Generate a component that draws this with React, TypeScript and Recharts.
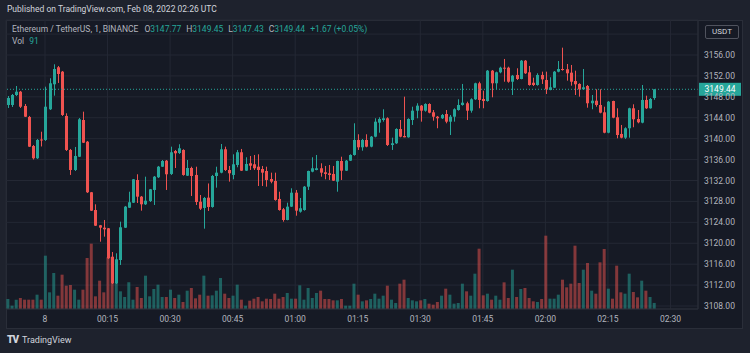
import { ComposedChart, Bar, XAxis, YAxis, CartesianGrid, ReferenceLine, Cell } from "recharts";

// one candle per minute, first one at 23:51 (minute -9 relative to 00:00)
const FIRST_MINUTE = -9;

const opens = [
  3146.44, 3146.44, 3148.35, 3148.98, 3146.25, 3144.15, 3138.6, 3136.25, 3139.84, 3139.75,
  3145.62, 3150.4, 3153.65, 3152.81, 3144.34, 3137.84, 3134.01, 3136.55, 3143.57, 3139.42,
  3129.75, 3126.36, 3123.44, 3122.98, 3122.86, 3117.43, 3112.35, 3116.8, 3122.98, 3126.8,
  3127.76, 3132.1, 3128.91, 3127.45, 3128.08, 3130.19, 3132.62, 3134.64, 3135.79, 3133.25,
  3137.64, 3137.26, 3137.84, 3132.92, 3134.39, 3133.06, 3127.95, 3126.75, 3128.72, 3126.94,
  3132.86, 3133.5, 3137.97, 3134.01, 3133.06, 3134.97, 3137.4, 3133.88, 3135.29, 3135.1,
  3134.64, 3134.2, 3133.82, 3132.29, 3131.91, 3128.47, 3126.5, 3124.45, 3127.0, 3129.67,
  3126.04, 3126.36, 3130.82, 3133.69, 3134.01, 3134.34, 3133.57, 3133.38, 3133.25, 3131.78,
  3135.73, 3133.88, 3135.79, 3136.88, 3139.75, 3138.35, 3139.75, 3138.47, 3140.38, 3143.06,
  3143.57, 3143.9, 3138.79, 3139.12, 3141.85, 3140.51, 3140.26, 3143.57, 3145.35, 3146.31,
  3145.35, 3146.63, 3145.04, 3144.2, 3143.9, 3144.72, 3143.25, 3144.2, 3145.48, 3146.44,
  3146.77, 3145.35, 3147.53, 3150.59, 3147.59, 3147.2, 3153.0, 3150.59, 3152.69, 3153.57,
  3153.57, 3150.89, 3152.18, 3151.41, 3154.91, 3152.69, 3150.7, 3150.26, 3152.18, 3151.22,
  3149.31, 3149.75, 3152.81, 3153.32, 3153.27, 3152.62, 3151.03, 3150.46, 3149.44, 3150.07,
  3146.77, 3147.26, 3146.44, 3145.04, 3141.14, 3147.2, 3144.09, 3140.9, 3140.19, 3141.99,
  3145.81, 3143.76, 3143.06, 3147.4, 3145.81, 3147.77
];

const highs = [
  3148.16, 3148.54, 3150.07, 3149.12, 3146.63, 3144.34, 3138.79, 3139.94, 3141.33, 3149.94,
  3151.55, 3154.22, 3153.9, 3152.94, 3144.85, 3138.03, 3138.41, 3143.95, 3145.16, 3139.56,
  3129.81, 3127.45, 3123.5, 3124.45, 3122.92, 3118.33, 3118.08, 3124.13, 3127.13, 3129.86,
  3132.29, 3133.19, 3129.04, 3132.73, 3130.38, 3132.86, 3134.78, 3135.92, 3135.92, 3138.47,
  3137.84, 3138.93, 3137.97, 3135.92, 3134.64, 3134.64, 3129.23, 3128.85, 3131.43, 3133.06,
  3134.64, 3138.98, 3138.47, 3134.78, 3137.01, 3137.84, 3138.03, 3136.44, 3136.69, 3136.88,
  3137.01, 3134.78, 3134.64, 3133.5, 3133.5, 3129.86, 3126.75, 3127.76, 3130.51, 3130.19,
  3128.66, 3130.95, 3133.88, 3136.44, 3136.88, 3135.29, 3134.78, 3134.97, 3134.78, 3135.79,
  3136.55, 3135.92, 3137.01, 3142.94, 3140.84, 3139.94, 3140.84, 3140.51, 3143.9, 3144.09,
  3145.62, 3144.09, 3140.19, 3141.99, 3143.57, 3148.03, 3143.9, 3146.11, 3146.77, 3146.44,
  3146.77, 3146.77, 3145.48, 3144.34, 3144.72, 3145.48, 3144.53, 3145.81, 3147.53, 3150.46,
  3147.07, 3147.72, 3150.7, 3150.89, 3149.17, 3153.13, 3153.13, 3152.81, 3153.76, 3155.24,
  3153.76, 3152.18, 3153.46, 3155.04, 3155.04, 3153.9, 3151.66, 3152.5, 3152.81, 3152.81,
  3151.74, 3152.94, 3154.85, 3157.4, 3154.28, 3154.09, 3153.0, 3150.59, 3153.32, 3150.26,
  3148.35, 3149.44, 3149.44, 3146.11, 3147.2, 3147.26, 3145.81, 3142.62, 3142.18, 3145.92,
  3146.57, 3145.48, 3150.26, 3148.22, 3147.78, 3149.45
];

const lows = [
  3145.87, 3146.06, 3148.16, 3145.87, 3144.15, 3138.41, 3136.02, 3136.12, 3138.51, 3139.56,
  3145.48, 3148.22, 3150.65, 3144.34, 3137.64, 3133.06, 3133.82, 3136.5, 3139.17, 3129.61,
  3126.17, 3123.3, 3120.3, 3121.26, 3117.0, 3112.21, 3112.21, 3115.85, 3122.92, 3126.75,
  3127.7, 3127.7, 3126.23, 3127.32, 3127.89, 3127.32, 3132.48, 3134.59, 3130.19, 3133.06,
  3134.39, 3137.07, 3132.92, 3132.86, 3129.04, 3127.32, 3126.36, 3122.79, 3126.17, 3126.8,
  3130.63, 3133.38, 3133.82, 3131.78, 3132.23, 3134.53, 3133.82, 3133.82, 3134.01, 3134.01,
  3130.95, 3130.95, 3130.82, 3131.47, 3128.14, 3126.23, 3124.13, 3124.39, 3126.94, 3125.27,
  3125.85, 3126.23, 3130.19, 3133.57, 3133.95, 3132.73, 3132.23, 3132.1, 3131.91, 3129.86,
  3132.1, 3133.82, 3135.73, 3136.75, 3137.84, 3137.7, 3138.35, 3138.35, 3140.26, 3141.14,
  3143.25, 3138.6, 3137.84, 3138.98, 3140.26, 3140.26, 3140.19, 3142.62, 3143.9, 3143.25,
  3145.16, 3144.85, 3143.44, 3141.99, 3143.76, 3142.94, 3140.7, 3143.25, 3145.35, 3146.31,
  3143.57, 3144.97, 3147.4, 3145.81, 3145.81, 3147.07, 3147.91, 3149.44, 3152.5, 3150.89,
  3150.7, 3148.35, 3151.22, 3151.35, 3152.37, 3150.13, 3150.07, 3150.13, 3150.46, 3148.54,
  3149.25, 3149.69, 3152.69, 3153.0, 3151.09, 3150.13, 3148.35, 3148.03, 3149.31, 3145.92,
  3145.62, 3146.11, 3144.85, 3141.03, 3141.03, 3143.9, 3140.07, 3140.07, 3139.94, 3140.19,
  3142.18, 3142.94, 3142.94, 3145.68, 3145.73, 3147.43
];

const closes = [
  3147.78, 3148.35, 3148.98, 3146.11, 3144.2, 3138.47, 3136.25, 3139.75, 3139.65, 3146.11,
  3150.59, 3153.32, 3152.37, 3144.53, 3137.84, 3134.01, 3136.69, 3143.71, 3139.23, 3129.75,
  3126.23, 3123.36, 3122.98, 3122.67, 3117.13, 3112.35, 3116.94, 3123.06, 3127.0, 3127.84,
  3132.23, 3128.91, 3127.45, 3128.14, 3130.32, 3132.73, 3134.64, 3135.73, 3133.19, 3137.4,
  3137.2, 3138.16, 3133.06, 3134.39, 3132.86, 3127.89, 3126.61, 3128.66, 3126.94, 3132.86,
  3133.5, 3137.97, 3134.01, 3133.38, 3135.1, 3137.4, 3133.88, 3135.16, 3134.83, 3134.34,
  3134.01, 3133.5, 3132.1, 3131.78, 3128.28, 3126.36, 3124.45, 3127.0, 3129.67, 3126.23,
  3126.69, 3130.82, 3133.82, 3134.34, 3134.34, 3133.5, 3133.25, 3133.06, 3131.97, 3135.73,
  3133.88, 3135.79, 3136.88, 3139.75, 3138.35, 3139.75, 3138.47, 3140.38, 3143.25, 3143.76,
  3143.9, 3138.79, 3139.12, 3141.85, 3140.38, 3140.26, 3143.76, 3145.35, 3146.31, 3145.35,
  3146.63, 3144.97, 3144.2, 3143.9, 3144.53, 3143.25, 3144.2, 3145.62, 3146.44, 3146.88,
  3145.35, 3147.53, 3150.59, 3147.4, 3147.2, 3153.0, 3150.59, 3152.69, 3153.57, 3153.46,
  3150.89, 3152.04, 3151.41, 3154.91, 3152.5, 3150.26, 3150.26, 3152.18, 3151.35, 3149.44,
  3149.82, 3152.81, 3153.32, 3153.13, 3152.5, 3150.89, 3150.4, 3149.44, 3149.82, 3146.77,
  3147.26, 3146.44, 3144.97, 3141.14, 3147.07, 3144.01, 3140.7, 3140.19, 3141.99, 3145.81,
  3143.71, 3143.13, 3147.4, 3145.81, 3147.59, 3149.44
];

const volumes = [
  150, 50, 140, 165, 140, 140, 140, 215, 140, 800,
  250, 540, 200, 515, 350, 360, 290, 140, 290, 765,
  980, 190, 425, 250, 775, 780, 400, 265, 180, 400,
  140, 330, 165, 500, 190, 300, 365, 180, 180, 290,
  165, 215, 105, 275, 315, 160, 215, 500, 200, 205,
  275, 465, 230, 165, 200, 365, 140, 50, 125, 155,
  180, 115, 155, 150, 230, 155, 180, 240, 155, 155,
  355, 140, 315, 165, 240, 275, 150, 150, 130, 130,
  150, 50, 50, 380, 215, 115, 130, 150, 230, 155,
  200, 350, 140, 90, 380, 440, 165, 130, 115, 130,
  150, 80, 65, 105, 200, 305, 215, 80, 90, 380,
  265, 200, 530, 905, 205, 230, 140, 200, 140, 400,
  165, 590, 180, 300, 315, 165, 115, 105, 150, 1100,
  155, 155, 215, 440, 325, 380, 950, 390, 590, 690,
  275, 230, 700, 900, 305, 155, 650, 250, 230, 530,
  255, 175, 425, 275, 180, 91
];

const priceTicks = [3108, 3112, 3116, 3120, 3124, 3128, 3132, 3136, 3140, 3144, 3148, 3152, 3156, 3160];
const timeTicks = [0, 15, 30, 45, 60, 75, 90, 105, 120, 135, 150];
const timeLabels = ["8", "00:15", "00:30", "00:45", "01:00", "01:15", "01:30", "01:45", "02:00", "02:15", "02:30"];

const LAST_PRICE = 3149.44;
const PRICE_DOMAIN = [3107.43, 3162.69];
const TIME_DOMAIN = [-9.35, 156.6];
const VOL_DOMAIN = [0, 4335];
// 3160 sits under the USDT badge, so its label is not drawn
const HIDDEN_PRICE_LABEL = 3160;

const UP = "#26a69a";
const DOWN = "#ef5350";
const FONT = "Roboto, sans-serif";
const AXIS_TEXT = "#b2b5be";

const data = opens.map((o, i) => ({
  t: FIRST_MINUTE + i,
  open: o,
  high: highs[i],
  low: lows[i],
  close: closes[i],
  range: [lows[i], highs[i]],
  vol: volumes[i],
}));

function Candle(props: any) {
  const { x, y, width, height, payload } = props;
  const { open, close, high, low } = payload;
  const top = Math.min(y, y + height);
  const h = Math.abs(height);
  const ratio = high === low ? 0 : h / (high - low);
  const color = close >= open ? UP : DOWN;
  const bodyTop = top + (high - Math.max(open, close)) * ratio;
  const bodyH = Math.max(1, Math.abs(open - close) * ratio);
  const cx = Math.round(x + width / 2) + 0.5;
  return (
    <g>
      <line x1={cx} x2={cx} y1={top} y2={top + h} stroke={color} strokeWidth={1} />
      <rect x={cx - 1.5} y={bodyTop} width={3} height={bodyH} fill={color} />
    </g>
  );
}

function PriceTick(props: any) {
  const { x, y, payload } = props;
  if (payload.value === HIDDEN_PRICE_LABEL) return <g />;
  return (
    <text x={x - 2} y={y + 3} fill={AXIS_TEXT} fontSize={8.5} fontFamily={FONT} textAnchor="start">
      {payload.value.toFixed(2)}
    </text>
  );
}

function TimeTick(props: any) {
  const { x, y, payload } = props;
  const label = timeLabels[timeTicks.indexOf(payload.value)] ?? "";
  return (
    <text x={x} y={y + 5} fill={AXIS_TEXT} fontSize={8.5} fontFamily={FONT} textAnchor="middle">
      {label}
    </text>
  );
}

function LastPriceLabel(props: any) {
  const vb = props.viewBox || {};
  const left = vb.x + vb.width + 1;
  const cy = vb.y;
  return (
    <g>
      <rect x={left} y={cy - 6.5} width={42} height={13} fill={UP} />
      <text x={left + 21} y={cy + 3} fill="#ffffff" fontSize={8.5} fontFamily={FONT} textAnchor="middle">
        {LAST_PRICE.toFixed(2)}
      </text>
    </g>
  );
}

export default function App() {
  return (
    <div style={{ position: "absolute", left: 0, top: 0, width: 750, height: 353, background: "#1e222d", overflow: "hidden", fontFamily: FONT }}>
      <div style={{ position: "absolute", left: 7, top: 4, fontSize: 8.5, color: "#d1d4dc", whiteSpace: "nowrap" }}>
        Published on TradingView.com, Feb 08, 2022 02:26 UTC
      </div>
      <div style={{ position: "absolute", left: 6, top: 20, width: 737, height: 309, background: "#161a25", border: "1px solid #2a2e39", boxSizing: "border-box" }} />
      <div style={{ position: "absolute", left: 0, top: 0 }}>
        <ComposedChart width={744} height={328} data={data} margin={{ top: 20, right: 0, bottom: 0, left: 6 }}>
          <CartesianGrid xAxisId="t" yAxisId="p" stroke="#242834" strokeWidth={1} />
          <XAxis
            xAxisId="t"
            dataKey="t"
            type="number"
            domain={TIME_DOMAIN}
            allowDataOverflow
            ticks={timeTicks}
            interval={0}
            tick={<TimeTick />}
            tickLine={false}
            tickSize={6}
            tickMargin={2}
            height={19}
            axisLine={{ stroke: "#2a2e39" }}
          />
          <XAxis xAxisId="v" dataKey="t" type="number" domain={TIME_DOMAIN} allowDataOverflow hide />
          <YAxis
            yAxisId="p"
            orientation="right"
            type="number"
            domain={PRICE_DOMAIN}
            allowDataOverflow
            ticks={priceTicks}
            interval={0}
            tick={<PriceTick />}
            tickLine={false}
            tickSize={6}
            tickMargin={2}
            width={46}
            axisLine={{ stroke: "#2a2e39" }}
          />
          <YAxis yAxisId="v" type="number" domain={VOL_DOMAIN} allowDataOverflow hide />
          <Bar xAxisId="v" yAxisId="v" dataKey="vol" barSize={3} isAnimationActive={false}>
            {data.map((d, i) => (
              <Cell key={`v-${i}`} fill={d.close >= d.open ? "rgba(38,166,154,0.5)" : "rgba(239,83,80,0.5)"} />
            ))}
          </Bar>
          <Bar xAxisId="t" yAxisId="p" dataKey="range" barSize={3} shape={<Candle />} isAnimationActive={false} />
          <ReferenceLine
            xAxisId="t"
            yAxisId="p"
            y={LAST_PRICE}
            stroke={UP}
            strokeDasharray="1 2"
            label={<LastPriceLabel />}
          />
        </ComposedChart>
      </div>
      {/* currency badge on top of the price scale */}
      <div style={{ position: "absolute", left: 705, top: 25, width: 32, height: 12, border: "1px solid #50535e", borderRadius: 2, background: "#161a25", color: "#d1d4dc", fontSize: 8, lineHeight: "12px", textAlign: "center" }}>
        USDT
      </div>
      <div style={{ position: "absolute", left: 12, top: 24, fontSize: 8.5, color: AXIS_TEXT, whiteSpace: "nowrap", lineHeight: "11px" }}>
        <span>Ethereum / TetherUS, 1, BINANCE</span>
        <span style={{ marginLeft: 6 }}>O</span><span style={{ color: UP }}>3147.77</span>
        <span style={{ marginLeft: 5 }}>H</span><span style={{ color: UP }}>3149.45</span>
        <span style={{ marginLeft: 5 }}>L</span><span style={{ color: UP }}>3147.43</span>
        <span style={{ marginLeft: 5 }}>C</span><span style={{ color: UP }}>3149.44</span>
        <span style={{ marginLeft: 5, color: UP }}>+1.67 (+0.05%)</span>
      </div>
      <div style={{ position: "absolute", left: 12, top: 36, fontSize: 8.5, color: AXIS_TEXT, whiteSpace: "nowrap", lineHeight: "11px" }}>
        <span>Vol</span><span style={{ marginLeft: 5, color: UP }}>91</span>
      </div>
      <div style={{ position: "absolute", left: 7, top: 334, fontSize: 9, color: "#d1d4dc", whiteSpace: "nowrap", display: "flex", alignItems: "center" }}>
        <span style={{ fontWeight: 900, fontSize: 10, letterSpacing: -1, marginRight: 4 }}>TV</span>
        <span>TradingView</span>
      </div>
    </div>
  );
}
